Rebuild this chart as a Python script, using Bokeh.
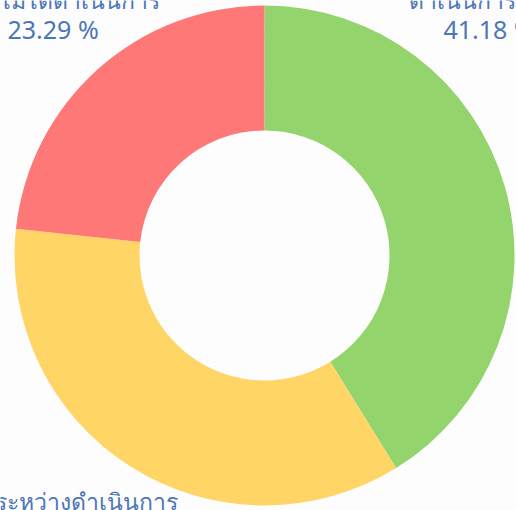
import math
from bokeh.plotting import figure
from bokeh.models import Range1d, ColumnDataSource
from bokeh.core.properties import value
from bokeh.embed import file_html
from bokeh.resources import INLINE

# data
status = ["ดำเนินการแล้ว", "ระหว่างดำเนินการ", "ไม่ได้ดำเนินการ"]
percent = [41.18, 35.53, 23.29]
colors = ["#93d46c", "#ffd566", "#ff7878"]

W, H = 516, 510
p = figure(width=W, height=H, output_backend="svg", toolbar_location=None,
           x_range=Range1d(0, W), y_range=Range1d(0, H), min_border=0)
p.axis.visible = False
p.grid.visible = False
p.outline_line_color = None
p.background_fill_color = "#fdfdfe"
p.border_fill_color = "#fdfdfe"

total = sum(percent)
cum = 0.0
starts, ends = [], []
for v in percent:
    c0 = cum / total
    cum += v
    c1 = cum / total
    starts.append(math.pi / 2 - 2 * math.pi * c1)
    ends.append(math.pi / 2 - 2 * math.pi * c0)

src = ColumnDataSource(dict(start=starts, end=ends, color=colors))
cx, cy = 264, 255
p.annular_wedge(x=cx, y=cy, inner_radius=125, outer_radius=250,
                start_angle="start", end_angle="end", color="color",
                direction="anticlock", source=src, line_color=None)

font = value("Noto Sans")
tcol = "#4d76b6"

def lab(x, y, txt, align, base, size):
    p.text(x=[x], y=[y], text=[txt], text_font=font, text_font_size=size,
           text_color=tcol, text_align=align, text_baseline=base)

# labels
lab(-2, H + 1, status[2], "left", "alphabetic", "23px")
lab(7, H - 28.5, f"{percent[2]:.2f} %", "left", "middle", "25px")
lab(408, H + 1, status[0], "left", "alphabetic", "23px")
lab(443, H - 28.5, f"{percent[0]:.2f} %", "left", "middle", "25px")
lab(-6, 10, status[1], "left", "alphabetic", "23px")

open("out.html", "w").write(file_html(p, INLINE))
